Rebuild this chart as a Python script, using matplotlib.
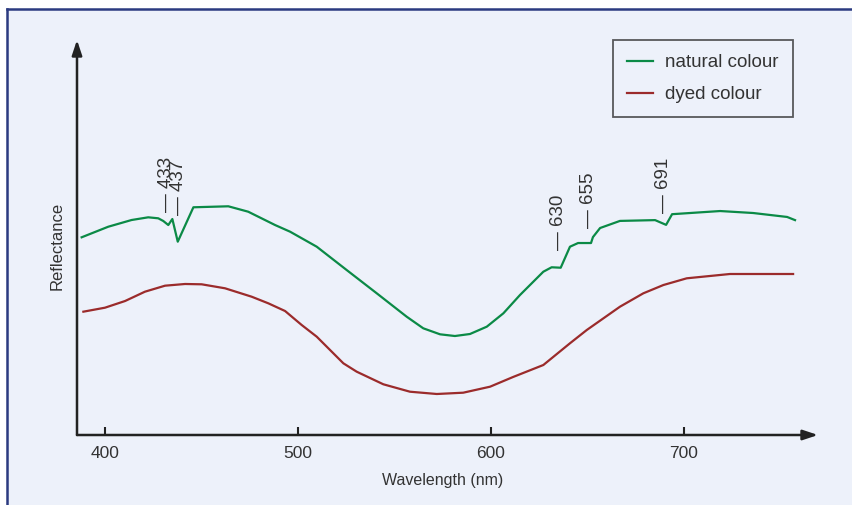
import numpy as np
import matplotlib
matplotlib.use("Agg")
import matplotlib.pyplot as plt
from matplotlib.lines import Line2D

plt.rcParams['font.family'] = ['Liberation Sans', 'DejaVu Sans']

# spectra (reflectance in arbitrary units)
wl_natural = [387.9, 401.7, 413.8, 422.4, 427.6, 430.2, 432.8, 434.9, 437.7, 445.8,
              463.9, 474.2, 488.1, 495.9, 509.7, 525.2, 540.8, 556.3, 564.9, 573.6,
              581.3, 589.1, 597.8, 606.4, 615.0, 627.1, 631.4, 636.1, 640.9, 645.1,
              651.8, 652.8, 656.5, 666.8, 685.0, 690.7, 693.8, 718.7, 735.8, 753.4,
              757.5]
refl_natural = [50.05, 52.73, 54.43, 55.11, 54.86, 54.18, 53.16, 54.68, 48.94, 57.65,
                57.90, 56.53, 53.16, 51.47, 47.67, 41.77, 35.87, 29.95, 27.01, 25.49,
                25.06, 25.57, 27.42, 30.81, 35.44, 41.34, 42.46, 42.35, 47.67, 48.6,
                48.6, 50.1, 52.4, 54.2, 54.4, 53.2, 55.9, 56.7, 56.2, 55.2,
                54.4]

wl_dyed = [388.8, 400.0, 410.4, 420.7, 431.1, 441.5, 450.1, 462.2, 476.0, 484.6,
           493.3, 501.9, 509.7, 523.5, 530.4, 544.2, 558.0, 571.9, 585.6, 599.5,
           611.4, 627.1, 640.9, 649.6, 666.8, 678.9, 689.3, 701.4, 723.8, 756.5]
refl_dyed = [31.22, 32.23, 33.92, 36.28, 37.80, 38.23, 38.15, 37.14, 35.01, 33.34,
             31.39, 27.85, 24.89, 18.15, 16.03, 12.84, 10.96, 10.38, 10.71, 12.23,
             14.68, 17.72, 23.22, 26.58, 32.48, 35.87, 37.97, 39.67, 40.76, 40.76]

# marked absorption features: label, x position, base height of the marker
peak_labels = ['433', '437', '630', '655', '691']
peak_x = [432.1, 438.3, 634.7, 650.3, 689.6]
peak_y = [56.5, 55.7, 46.8, 52.4, 56.2]

ticks = [400, 500, 600, 700]

bg = '#edf1fa'
green = '#0b8a46'
red = '#9b2b2b'

fig = plt.figure(figsize=(8.52, 5.05), dpi=100)
fig.patch.set_facecolor('white')
# panel background and its navy rule on left and top
panel = plt.Rectangle((7/852, 0), 1, 1 - 9/505, transform=fig.transFigure,
                      facecolor=bg, edgecolor='none', zorder=-10)
fig.add_artist(panel)
fig.add_artist(Line2D([7/852, 7/852], [0, 1 - 9/505], color='#2b3a80', lw=1.8,
                      transform=fig.transFigure, zorder=-5))
fig.add_artist(Line2D([7/852, 1], [1 - 9/505, 1 - 9/505], color='#2b3a80', lw=1.8,
                      transform=fig.transFigure, zorder=-5))

ax = fig.add_axes([77/852, 1 - 435/505, (818 - 77)/852, (435 - 40)/505])
ax.set_facecolor('none')
ax.set_xlim(385.5, 769.4)
ax.set_ylim(0, 100)

ax.plot(wl_natural, refl_natural, color=green, lw=1.6, label='natural colour')
ax.plot(wl_dyed, refl_dyed, color=red, lw=1.6, label='dyed colour')

for lab, x, y in zip(peak_labels, peak_x, peak_y):
    ax.text(x, y, '\u2014 ' + lab, rotation=90, ha='center', va='bottom',
            fontsize=13.5, color='#333333')

for s in ax.spines.values():
    s.set_visible(False)
# axes with arrow heads
ax.annotate('', xy=(1, 0), xytext=(0, 0), xycoords='axes fraction',
            arrowprops=dict(arrowstyle='-|>,head_length=0.9,head_width=0.3',
                            color='#222222', lw=1.8, shrinkA=0, shrinkB=0))
ax.annotate('', xy=(0, 1), xytext=(0, 0), xycoords='axes fraction',
            arrowprops=dict(arrowstyle='-|>,head_length=0.9,head_width=0.3',
                            color='#222222', lw=1.8, shrinkA=0, shrinkB=0))

ax.set_xticks(ticks)
ax.set_yticks([])
ax.tick_params(axis='x', direction='in', length=6, width=1.5, color='#222222',
               pad=8, labelsize=12.5, labelcolor='#333333')
ax.set_xlabel('Wavelength (nm)', fontsize=11.5, color='#333333')
ax.xaxis.set_label_coords(0.494, -38/395)
ax.set_ylabel('Reflectance', fontsize=12, color='#333333')
ax.yaxis.set_label_coords(-12/741, 0.478)

leg = ax.legend(loc='upper right', bbox_to_anchor=(793/852, 1 - 40/505),
                bbox_transform=fig.transFigure, frameon=True, fancybox=False,
                fontsize=13.5, handlelength=1.4, handletextpad=0.65,
                labelspacing=0.8, borderpad=0.75, borderaxespad=0)
leg.get_frame().set_edgecolor('#333333')
leg.get_frame().set_linewidth(1.3)
leg.get_frame().set_facecolor(bg)
for t in leg.get_texts():
    t.set_color('#333333')

fig.savefig('out.png', dpi=100, facecolor=fig.get_facecolor())
